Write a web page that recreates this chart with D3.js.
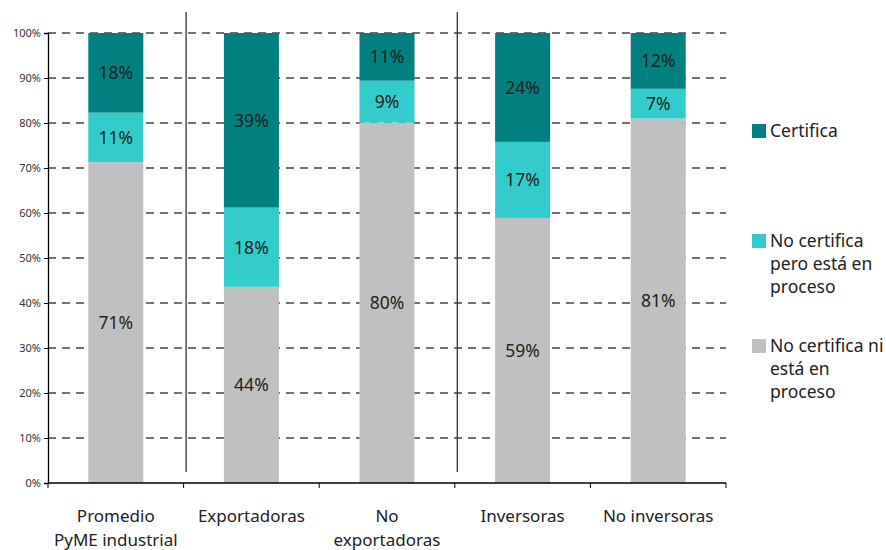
<!DOCTYPE html>
<html><head><meta charset="utf-8">
<script src="https://cdn.jsdelivr.net/npm/d3@7/dist/d3.min.js"></script>
<style>body{margin:0;background:#fff}svg{display:block}text{font-family:"Noto Sans",sans-serif}</style>
</head><body><svg id="c" width="886" height="550"></svg>
<script>
const categories = ["Promedio\nPyME industrial","Exportadoras","No\nexportadoras","Inversoras","No inversoras"];
const noCertNiProceso = [71.3, 43.6, 80.1, 58.9, 81.0];
const noCertProceso   = [11.0, 17.6, 9.3, 16.9, 6.6];
const certifica       = [17.7, 38.8, 10.6, 24.2, 12.4];
const seriesNames = ["No certifica ni\nestá en\nproceso","No certifica\npero está en\nproceso","Certifica"];
const seriesColors = ["#C0C0C0","#33CCCC","#008080"];
const yTicks = [0,10,20,30,40,50,60,70,80,90,100];
const separatorsAfter = [0,2]; // vertical separator lines after these category indices

const svg = d3.select("#c");
const m = {l:48, r:726, t:33, b:483};
const x = d3.scaleBand().domain(d3.range(categories.length)).range([m.l,m.r]).paddingInner(0).paddingOuter(0);
const y = d3.scaleLinear().domain([0,100]).range([m.b,m.t]);
const barW = 55;

// gridlines
svg.append("g").selectAll("line").data(yTicks.slice(1)).join("line")
  .attr("x1",m.l).attr("x2",m.r).attr("y1",d=>y(d)).attr("y2",d=>y(d))
  .attr("stroke","#444").attr("stroke-width",1.3).attr("stroke-dasharray","8,6");

// bars
const series = [noCertNiProceso, noCertProceso, certifica];
const stacked = categories.map((c,i)=>{let acc=0;return series.map((s,k)=>{const r={i,k,y0:acc,y1:acc+s[i],v:s[i]};acc+=s[i];return r;});}).flat();
const cx = i => x(i)+x.bandwidth()/2;
svg.append("g").selectAll("rect").data(stacked).join("rect")
  .attr("x",d=>cx(d.i)-barW/2).attr("width",barW)
  .attr("y",d=>y(Math.min(100,d.y1))).attr("height",d=>y(d.y0)-y(Math.min(100,d.y1)))
  .attr("fill",d=>seriesColors[d.k]);
svg.append("g").selectAll("text").data(stacked).join("text")
  .attr("x",d=>cx(d.i)).attr("y",d=>y((d.y0+Math.min(100,d.y1))/2)).attr("dy","0.36em")
  .attr("text-anchor","middle").attr("font-size",17.5).attr("fill","#222")
  .text(d=>Math.round(d.v)+"%");

// separators
svg.append("g").selectAll("line").data(separatorsAfter).join("line")
  .attr("x1",d=>x(d)+x.bandwidth()+2.5).attr("x2",d=>x(d)+x.bandwidth()+2.5)
  .attr("y1",12).attr("y2",472).attr("stroke","#333").attr("stroke-width",1.3);

// y axis
const ya = svg.append("g").attr("transform",`translate(${m.l},0)`)
  .call(d3.axisLeft(y).tickValues(yTicks).tickFormat(d=>d+"%").tickSize(4).tickPadding(3));
ya.select(".domain").attr("stroke","#000").attr("stroke-width",1.3);
ya.selectAll(".tick line").attr("stroke","#000");
ya.selectAll("text").attr("font-size",11).attr("fill","#333").attr("font-family","Noto Sans");

// x axis
const xa = svg.append("g").attr("transform",`translate(0,${m.b})`);
xa.append("line").attr("x1",m.l).attr("x2",m.r).attr("stroke","#000").attr("stroke-width",1.3);
xa.selectAll("line.t").data(d3.range(categories.length+1)).join("line").attr("class","t")
  .attr("x1",i=>m.l+i*x.bandwidth()).attr("x2",i=>m.l+i*x.bandwidth()).attr("y1",0).attr("y2",5)
  .attr("stroke","#000");
categories.forEach((c,i)=>{
  const t = xa.append("text").attr("text-anchor","middle").attr("font-size",17).attr("fill","#222");
  c.split("\n").forEach((ln,j)=>t.append("tspan").attr("x",cx(i)).attr("y",39+j*24).text(ln));
});

// legend
const legY = [131, 241, 346];
[2,1,0].forEach((k,idx)=>{
  const g = svg.append("g");
  const yy = legY[idx];
  g.append("rect").attr("x",752).attr("y",yy-7).attr("width",14).attr("height",14).attr("fill",seriesColors[k]);
  const t = g.append("text").attr("font-size",17.5).attr("fill","#222");
  seriesNames[k].split("\n").forEach((ln,j)=>t.append("tspan").attr("x",770).attr("y",yy+6+j*22.8).text(ln));
});
</script></body></html>
